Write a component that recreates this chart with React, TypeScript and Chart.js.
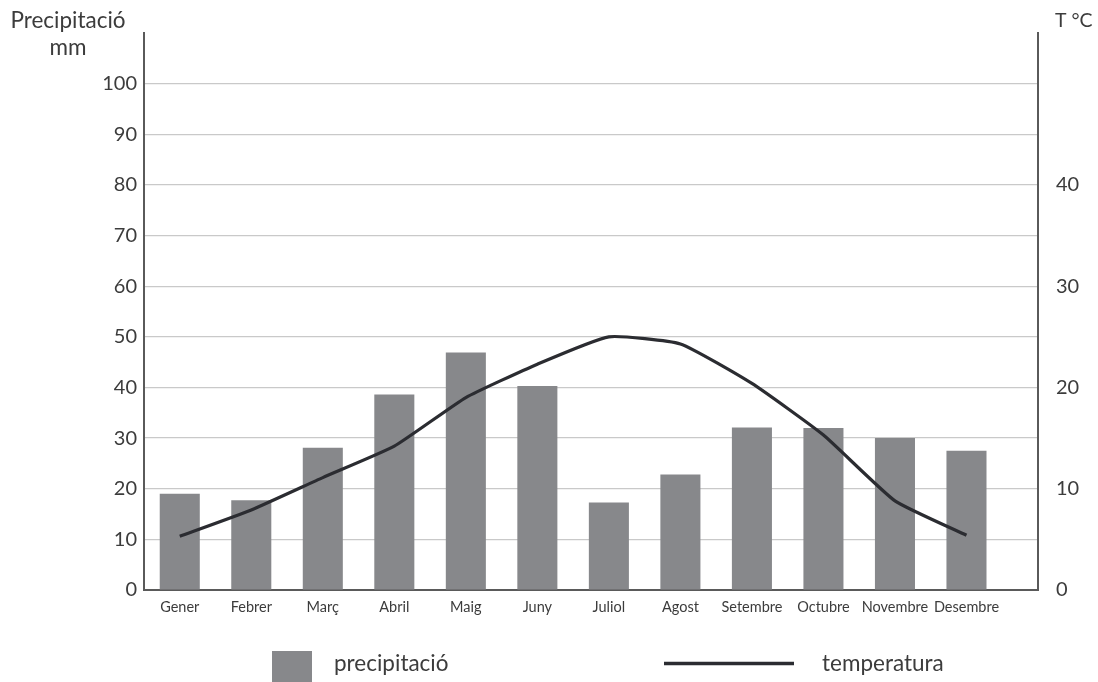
import React, { useEffect, useRef } from "react";
import { Chart, registerables } from "chart.js";

Chart.register(...registerables);

const months = ["Gener", "Febrer", "Març", "Abril", "Maig", "Juny", "Juliol", "Agost", "Setembre", "Octubre", "Novembre", "Desembre"];
const precipitation = [19, 17.7, 28.1, 38.6, 46.9, 40.3, 17.3, 22.8, 32.1, 32.0, 30.0, 27.5];
const temperature = [5.3, 7.9, 11.1, 14.2, 19.0, 22.3, 25.0, 24.3, 20.4, 15.3, 8.8, 5.4];
const leftTicks = [0, 10, 20, 30, 40, 50, 60, 70, 80, 90, 100];
const rightTicks = [0, 10, 20, 30, 40];

const FONT = "Lato, 'Open Sans', sans-serif";
const TEXT = "#3c3c3c";
const BAR = "#87888b";
const LINE = "#2b2c31";
const AXIS = "#5a5a5a";
const GRID = "#c9c9c9";

const overlayPlugin = {
  id: "overlayText",
  afterDraw(chart: any) {
    const ctx = chart.ctx;
    const area = chart.chartArea;
    ctx.save();
    ctx.fillStyle = TEXT;
    ctx.font = `22.5px ${FONT}`;
    ctx.textBaseline = "middle";
    ctx.textAlign = "center";
    ctx.fillText("Precipitació", area.left - 76, 21);
    ctx.fillText("mm", area.left - 76, 48);
    ctx.textAlign = "left";
    ctx.font = `19.5px ${FONT}`;
    ctx.fillText("T °C", area.right + 17, 21);

    // legend
    const h = chart.height;
    ctx.fillStyle = BAR;
    ctx.fillRect(272, h - 31, 40, 40);
    ctx.fillStyle = TEXT;
    ctx.font = `22.5px ${FONT}`;
    ctx.fillText("precipitació", 334, h - 18);
    ctx.strokeStyle = LINE;
    ctx.lineWidth = 3.5;
    ctx.beginPath();
    ctx.moveTo(664, h - 18.5);
    ctx.lineTo(794, h - 18.5);
    ctx.stroke();
    ctx.fillText("temperatura", 822, h - 18);
    ctx.restore();
  },
};

export default function App() {
  const ref = useRef<HTMLCanvasElement | null>(null);

  useEffect(() => {
    if (!ref.current) return;
    const chart = new Chart(ref.current, {
      type: "bar",
      data: {
        datasets: [
          {
            type: "line",
            label: "temperatura",
            data: temperature.map((t, i) => ({ x: i, y: t })),
            yAxisID: "y2",
            borderColor: LINE,
            borderWidth: 3.2,
            pointRadius: 0,
            tension: 0.15,
            order: 0,
          } as any,
          {
            type: "bar",
            label: "precipitació",
            data: precipitation.map((p, i) => ({ x: i, y: p })),
            yAxisID: "y",
            backgroundColor: BAR,
            categoryPercentage: 1,
            barPercentage: 0.56,
            order: 1,
          } as any,
        ],
      },
      options: {
        animation: false,
        responsive: false,
        maintainAspectRatio: false,
        layout: { padding: { left: 0, right: 0, top: 33, bottom: 52 } },
        plugins: { legend: { display: false }, tooltip: { enabled: false } },
        scales: {
          x: {
            type: "linear",
            offset: false,
            min: -0.5,
            max: 12,
            afterBuildTicks: (scale: any) => {
              scale.ticks = months.map((_, i) => ({ value: i }));
            },
            afterFit: (scale: any) => {
              scale.height = 40;
            },
            ticks: {
              autoSkip: false,
              maxRotation: 0,
              padding: 9,
              color: TEXT,
              font: { family: FONT, size: 14.5 },
              callback: (v: any) => months[v] ?? "",
            },
            grid: { display: false, drawTicks: false },
            border: { display: true, color: AXIS, width: 2 },
          },
          y: {
            type: "linear",
            position: "left",
            min: 0,
            max: 110,
            afterBuildTicks: (scale: any) => {
              scale.ticks = leftTicks.map((v) => ({ value: v }));
            },
            afterFit: (scale: any) => {
              scale.width = 144;
            },
            ticks: {
              padding: 7,
              color: TEXT,
              font: { family: FONT, size: 20 },
            },
            grid: {
              drawTicks: false,
              color: (c: any) => (c.tick && c.tick.value === 0 ? "rgba(0,0,0,0)" : GRID),
              lineWidth: 1.2,
            },
            border: { display: true, color: AXIS, width: 2 },
          },
          y2: {
            type: "linear",
            position: "right",
            min: 0,
            max: 55,
            afterBuildTicks: (scale: any) => {
              scale.ticks = rightTicks.map((v) => ({ value: v }));
            },
            afterFit: (scale: any) => {
              scale.width = 60;
            },
            ticks: {
              padding: 18,
              color: TEXT,
              font: { family: FONT, size: 20 },
            },
            grid: { display: false, drawTicks: false },
            border: { display: true, color: AXIS, width: 2 },
          },
        },
      } as any,
      plugins: [overlayPlugin],
    });
    return () => chart.destroy();
  }, []);

  return (
    <div style={{ position: "fixed", left: 0, top: 0, width: 1098, height: 682, background: "#fff" }}>
      <canvas ref={ref} width={1098} height={682} style={{ width: 1098, height: 682 }} />
    </div>
  );
}
